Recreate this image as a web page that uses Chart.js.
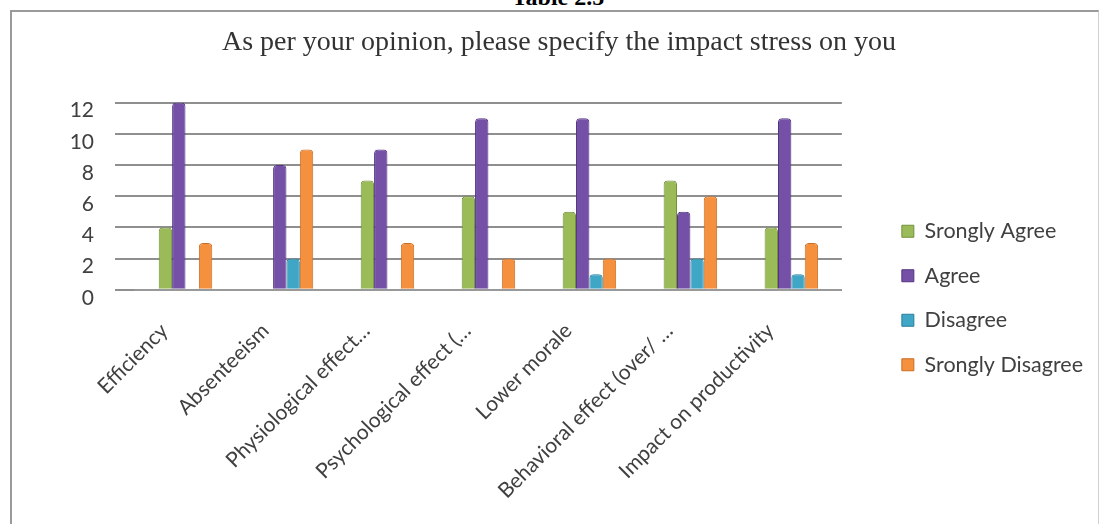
<!DOCTYPE html>
<html>
<head>
<meta charset="utf-8">
<title>Impact of stress</title>
<script src="https://cdn.jsdelivr.net/npm/chart.js@4"></script>
<style>
  body { margin: 0; background: #fff; overflow: hidden; }
  #caption {
    position: absolute; left: 0; width: 1116px; top: -15px;
    text-align: center; font: bold 24px/24px 'Liberation Serif', serif; color: #000;
  }
  #frame {
    position: absolute; left: 10px; top: 10px; width: 1086px; height: 530px;
    border-left: 2px solid #9a9a9a; border-top: 2px solid #9a9a9a; border-right: 1px solid #d0d0d0;
  }
  #myChart { position: absolute; left: 12px; top: 12px; }
</style>
</head>
<body>
<div id="caption">Table 2.5</div>
<div id="frame"></div>
<canvas id="myChart" width="1086" height="512"></canvas>
<script>
'use strict';

// ----------------- chart data -----------------
var categories = ['Efficiency', 'Absenteeism', 'Physiological effect…', 'Psychological effect (…',
  'Lower morale', 'Behavioral effect (over/ …', 'Impact on productivity'];
var stronglyAgree = [4, 0, 7, 6, 5, 7, 4];
var agree = [12, 8, 9, 11, 11, 5, 11];
var disagree = [0, 2, 0, 0, 1, 2, 1];
var stronglyDisagree = [3, 9, 3, 2, 2, 6, 3];
var seriesNames = ['Srongly Agree', 'Agree', 'Disagree', 'Srongly Disagree'];
var yTicks = [0, 2, 4, 6, 8, 10, 12];

var fillColors = ['#9bbb59', '#7450a6', '#3fa6c6', '#f5903f'];
var edgeColors = ['#71913a', '#523480', '#2a7f9c', '#c86d25'];

function makeDataset(i, values) {
  return {
    label: seriesNames[i],
    data: values,
    backgroundColor: fillColors[i],
    borderColor: edgeColors[i],
    borderWidth: 1,
    borderRadius: { topLeft: 4, topRight: 4 },
    borderSkipped: 'bottom',
    categoryPercentage: 0.53,
    barPercentage: 1.0
  };
}

var ctx = document.getElementById('myChart').getContext('2d');
var chart = new Chart(ctx, {
  type: 'bar',
  data: {
    labels: categories,
    datasets: [
      makeDataset(0, stronglyAgree),
      makeDataset(1, agree),
      makeDataset(2, disagree),
      makeDataset(3, stronglyDisagree)
    ]
  },
  options: {
    responsive: false,
    animation: false,
    layout: { padding: { left: 13, right: 5, top: 0, bottom: 0 } },
    plugins: {
      title: {
        display: true,
        text: 'As per your opinion, please specify the impact stress on you',
        font: { family: "'Liberation Serif', serif", size: 28, weight: 'normal' },
        color: '#333',
        padding: { top: 14, bottom: 43 }
      },
      legend: {
        position: 'right',
        maxWidth: 320,
        // empty title only pushes the items down
        title: { display: true, text: ' ', font: { size: 20 }, padding: 18 },
        labels: {
          boxWidth: 12,
          boxHeight: 12,
          padding: 23,
          color: '#404040',
          font: { family: 'Lato', size: 21.5 }
        }
      },
      tooltip: { enabled: false }
    },
    scales: {
      x: {
        grid: { display: false },
        border: { display: true, color: '#999', width: 2 },
        ticks: {
          maxRotation: 45,
          minRotation: 45,
          autoSkip: false,
          labelOffset: -21,
          padding: 20.5,
          color: '#404040',
          font: { family: 'Lato', size: 21 }
        }
      },
      y: {
        min: 0,
        max: 12,
        afterBuildTicks: function (axis) {
          axis.ticks = yTicks.map(function (v) { return { value: v }; });
        },
        afterFit: function (axis) { axis.width = 110; },
        grid: { color: '#8f8f8f', lineWidth: 2, tickLength: 20 },
        border: { display: false },
        ticks: {
          padding: 21,
          labelOffset: 8,
          color: '#404040',
          font: { family: 'Lato', size: 21 }
        }
      },
      gap: {
        position: 'right',
        display: true,
        grid: { display: false },
        border: { display: false },
        ticks: { display: false },
        afterFit: function (axis) { axis.width = 37; }
      }
    }
  }
});
</script>
</body>
</html>
